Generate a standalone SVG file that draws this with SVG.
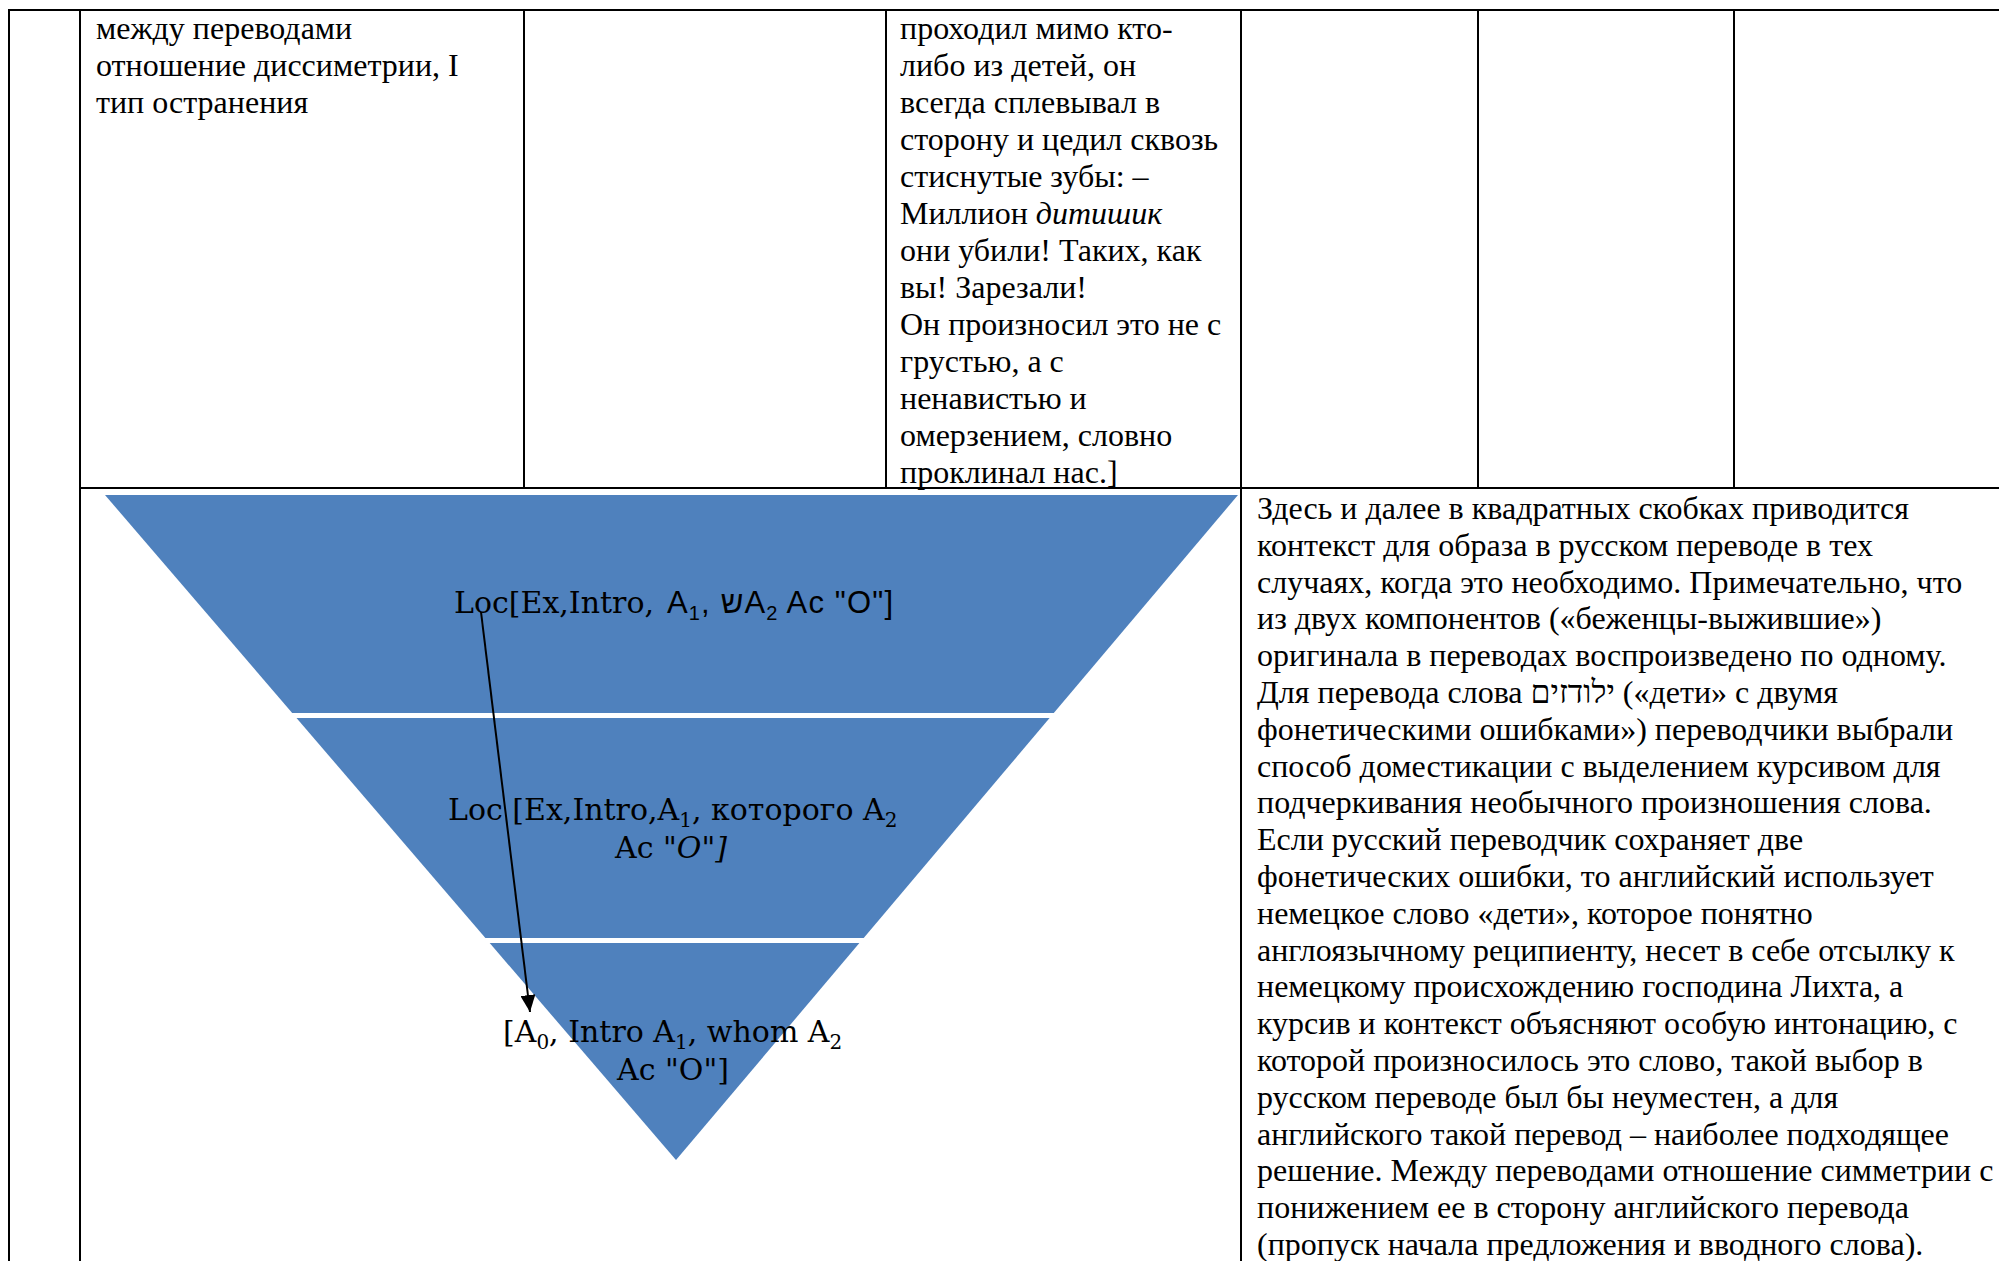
<svg xmlns="http://www.w3.org/2000/svg" width="1999" height="1261" viewBox="0 0 1999 1261">
  <style>
    .rule { stroke: #000; stroke-width: 2; fill: none; }
    .body { font-family: "Liberation Serif", "Times New Roman", serif; font-size: 32px; fill: #000; }
    .it { font-style: italic; }
    .ser { font-family: "DejaVu Serif", "Liberation Serif", serif; font-size: 30px; fill: #000; }
    .sans { font-family: "Liberation Sans", Arial, sans-serif; font-size: 31px; fill: #000; }
    .sub { font-size: 20px; }
    .tier { fill: #4F81BD; }
    .link { stroke: #000; stroke-width: 2; fill: none; }
  </style>
  <defs>
    <marker id="arrowhead" markerUnits="userSpaceOnUse" markerWidth="17" markerHeight="15" refX="17" refY="7.5" orient="auto">
      <path d="M0,0 L17,7.5 L0,15 Z" fill="#000"/>
    </marker>
  </defs>

  <rect x="0" y="0" width="1999" height="1261" fill="#fff"/>

  <!-- table grid -->
  <g id="table-grid">
    <line class="rule" x1="8" y1="10" x2="1999" y2="10"/>
    <line class="rule" x1="9" y1="9" x2="9" y2="1261"/>
    <line class="rule" x1="80" y1="9" x2="80" y2="1261"/>
    <line class="rule" x1="524" y1="9" x2="524" y2="488"/>
    <line class="rule" x1="886" y1="9" x2="886" y2="488"/>
    <line class="rule" x1="1241" y1="9" x2="1241" y2="1261"/>
    <line class="rule" x1="1478" y1="9" x2="1478" y2="488"/>
    <line class="rule" x1="1734" y1="9" x2="1734" y2="488"/>
    <line class="rule" x1="79" y1="488" x2="1999" y2="488"/>
  </g>

  <!-- upper row: cell texts -->
  <g id="cell-note-left">
    <text class="body" x="96" y="39">между переводами</text>
    <text class="body" x="96" y="76">отношение диссиметрии, I</text>
    <text class="body" x="96" y="113">тип остранения</text>
  </g>

  <g id="cell-quote">
    <text class="body" x="900" y="39">проходил мимо кто-</text>
    <text class="body" x="900" y="76">либо из детей, он</text>
    <text class="body" x="900" y="113">всегда сплевывал в</text>
    <text class="body" x="900" y="150">сторону и цедил сквозь</text>
    <text class="body" x="900" y="187">стиснутые зубы: –</text>
    <text class="body" x="900" y="224">Миллион <tspan class="it">дитишик</tspan></text>
    <text class="body" x="900" y="261">они убили! Таких, как</text>
    <text class="body" x="900" y="298">вы! Зарезали!</text>
    <text class="body" x="900" y="335">Он произносил это не с</text>
    <text class="body" x="900" y="372">грустью, а с</text>
    <text class="body" x="900" y="409">ненавистью и</text>
    <text class="body" x="900" y="446">омерзением, словно</text>
    <text class="body" x="900" y="483">проклинал нас.]</text>
  </g>

  <!-- inverted pyramid, three tiers -->
  <g id="tier-top">
    <polygon class="tier" points="105,495 1238,495 1053.8,713 292.2,713"/>
    <text class="ser" x="454" y="613">Loc[Ex,Intro,</text>
    <text class="sans" x="667" y="613" textLength="226" lengthAdjust="spacing">A<tspan class="sub" dy="7">1</tspan><tspan dy="-7">, שA</tspan><tspan class="sub" dy="7">2</tspan><tspan dy="-7"> Ac "O"]</tspan></text>
  </g>

  <g id="tier-middle">
    <polygon class="tier" points="296.5,718 1049.6,718 863.7,938 485.4,938"/>
    <text class="ser" x="448" y="820">Loc [Ex,Intro,A<tspan class="sub" dy="7">1</tspan><tspan dy="-7">, которого A</tspan><tspan class="sub" dy="7">2</tspan></text>
    <text class="ser" x="615" y="858">Ac <tspan class="it">"O"]</tspan></text>
  </g>

  <g id="tier-bottom">
    <polygon class="tier" points="489.7,943 859.4,943 676,1160"/>
    <text class="ser" x="503" y="1042">[A<tspan class="sub" dy="7">0</tspan><tspan dy="-7">, Intro A</tspan><tspan class="sub" dy="7">1</tspan><tspan dy="-7">, whom A</tspan><tspan class="sub" dy="7">2</tspan></text>
    <text class="ser" x="617" y="1080">Ac "O"]</text>
  </g>

  <!-- connector from the top tier to the bottom tier -->
  <g id="connectors">
    <line class="link" x1="481" y1="612" x2="530" y2="1012" marker-end="url(#arrowhead)"/>
  </g>

  <!-- lower row: commentary -->
  <g id="cell-commentary">
    <text class="body" x="1257" y="519">Здесь и далее в квадратных скобках приводится</text>
    <text class="body" x="1257" y="555.8">контекст для образа в русском переводе в тех</text>
    <text class="body" x="1257" y="592.6">случаях, когда это необходимо. Примечательно, что</text>
    <text class="body" x="1257" y="629.4">из двух компонентов («беженцы-выжившие»)</text>
    <text class="body" x="1257" y="666.2">оригинала в переводах воспроизведено по одному.</text>
    <text class="body" x="1257" y="703">Для перевода слова ילודזים («дети» с двумя</text>
    <text class="body" x="1257" y="739.8">фонетическими ошибками») переводчики выбрали</text>
    <text class="body" x="1257" y="776.6">способ доместикации с выделением курсивом для</text>
    <text class="body" x="1257" y="813.4">подчеркивания необычного произношения слова.</text>
    <text class="body" x="1257" y="850.2">Если русский переводчик сохраняет две</text>
    <text class="body" x="1257" y="887">фонетических ошибки, то английский использует</text>
    <text class="body" x="1257" y="923.8">немецкое слово «дети», которое понятно</text>
    <text class="body" x="1257" y="960.6">англоязычному реципиенту, несет в себе отсылку к</text>
    <text class="body" x="1257" y="997.4">немецкому происхождению господина Лихта, а</text>
    <text class="body" x="1257" y="1034.2">курсив и контекст объясняют особую интонацию, с</text>
    <text class="body" x="1257" y="1071">которой произносилось это слово, такой выбор в</text>
    <text class="body" x="1257" y="1107.8">русском переводе был бы неуместен, а для</text>
    <text class="body" x="1257" y="1144.6">английского такой перевод – наиболее подходящее</text>
    <text class="body" x="1257" y="1181.4">решение. Между переводами отношение симметрии с</text>
    <text class="body" x="1257" y="1218.2">понижением ее в сторону английского перевода</text>
    <text class="body" x="1257" y="1255">(пропуск начала предложения и вводного слова).</text>
  </g>
</svg>
